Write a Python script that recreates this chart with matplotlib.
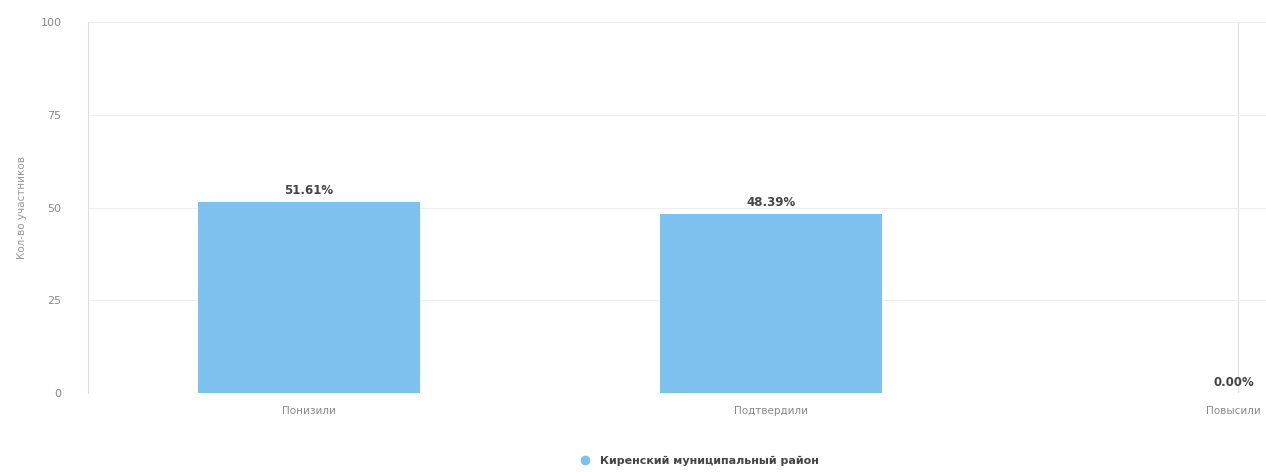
import numpy as np
import matplotlib.pyplot as plt
from matplotlib.lines import Line2D

# Данные графика
categories = ['Понизили', 'Подтвердили', 'Повысили']
values = [51.61, 48.39, 0.0]
labels = ['51.61%', '48.39%', '0.00%']
series_name = 'Киренский муниципальный район'
y_ticks = [0, 25, 50, 75, 100]

bar_color = '#7dc1ef'

fig = plt.figure(figsize=(12.66, 4.72), dpi=100)
ax = fig.add_axes([0.0695, 0.167, 0.9305, 0.786])

x = np.arange(len(categories))
ax.bar(x, values, width=0.48, color=bar_color, zorder=2)

# подписи значений над столбцами
for xi, v, lab in zip(x, values, labels):
    ax.text(xi, v + 1.2, lab, ha='center', va='bottom', fontsize=8.5,
            fontweight='bold', color='#444444')

ax.set_xlim(-0.477, 2.07)
ax.set_ylim(0, 100)
ax.set_yticks(y_ticks)
ax.set_yticklabels([str(t) for t in y_ticks], fontsize=8, color='#888888')
ax.set_xticks(x)
ax.set_xticklabels(categories, fontsize=7.5, color='#888888')
ax.tick_params(axis='y', length=0, pad=19)
ax.tick_params(axis='x', length=0, pad=9)

ax.grid(axis='y', color='#eeeeee', linewidth=0.8, zorder=0)
for s in ['top', 'right', 'bottom']:
    ax.spines[s].set_visible(False)
ax.spines['left'].set_color('#dddddd')
ax.spines['left'].set_linewidth(0.8)
ax.axvline(2.01, color='#dddddd', linewidth=0.8, zorder=0)

ax.set_ylabel('Кол-во участников', fontsize=7.5, color='#999999', labelpad=10)

# легенда
handle = Line2D([], [], marker='o', linestyle='none', markersize=6,
                markerfacecolor=bar_color, markeredgecolor=bar_color)
fig.legend([handle], [series_name], loc='center', bbox_to_anchor=(0.55, 0.023),
           frameon=False, handletextpad=0.3,
           prop={'size': 8, 'weight': 'bold'}, labelcolor='#444444')

plt.savefig('out.png', dpi=100)
